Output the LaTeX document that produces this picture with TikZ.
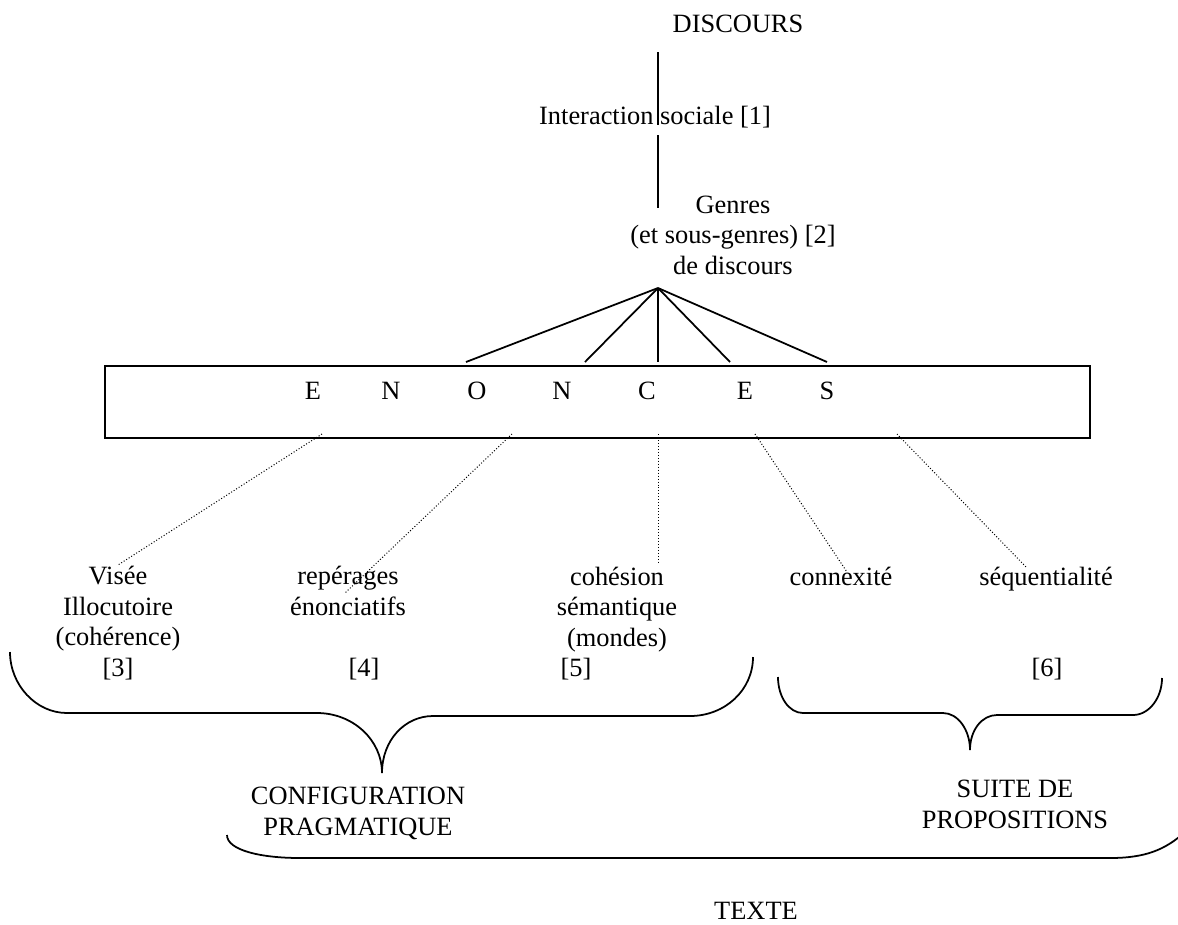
\documentclass[tikz,border=0pt]{standalone}
\usepackage{fontspec}
\setmainfont{Liberation Serif}
\usetikzlibrary{positioning, fit}

\begin{document}
\begin{tikzpicture}[x=0.4545pt,y=-0.4545pt,line width=0.8pt,
      every node/.style={font=\fontsize{12}{13.8}\selectfont,inner sep=0pt},
      lbl/.style={align=center,anchor=base},
      dots/.style={line width=0.45pt,dash pattern=on 0.45pt off 0.9pt}]
  \useasboundingbox (0,0) rectangle (1178,924);
  \node[lbl] (disc)   at (738,32)  {DISCOURS};
  \node[lbl] (inter)  at (655,124) {Interaction sociale [1]};
  \node[lbl] (genres) at (733,274) {Genres\\(et sous-genres) [2]\\de discours};
  \coordinate (t1) at (658,52);  \coordinate (t2) at (658,125);
  \coordinate (t3) at (658,135); \coordinate (t4) at (658,208);
  \coordinate (g) at (658,288);
  \draw (t1) -- (t2) (t3) -- (t4);

  \node[draw,fit={(105,366) (1090,438)}] (box) {};
  \foreach \l/\x in {E/313,N/391,O/477,N/562,C/647,E/745,S/827}
    \node[anchor=base] (e\x) at (\x,399) {\l};
  \foreach \x in {466,585,658,730,827} {
    \coordinate (f\x) at (\x,362);
    \draw (g) -- (f\x);
  }

  \node[lbl] (visee) at (118,676)  {Visée\\Illocutoire\\(cohérence)\\{[3]}};
  \node[lbl] (reper) at (348,615)  {repérages\\énonciatifs};
  \node[lbl] (cohes) at (617,646)  {cohésion\\sémantique\\(mondes)};
  \node[lbl] (conne) at (841,585)  {connexité};
  \node[lbl] (seque) at (1046,585) {séquentialité};
  \node[lbl] (n4) at (364,676)  {[4]};
  \node[lbl] (n5) at (576,676)  {[5]};
  \node[lbl] (n6) at (1047,676) {[6]};

  \foreach \a/\b/\c/\d [count=\i] in {322/434/118/565, 512/434/345/593,
      658/434/658/562, 755/434/847/572, 897/434/1027/568} {
    \coordinate (s\i) at (\a,\b);
    \coordinate (u\i) at (\c,\d);
    \draw[dots] (s\i) -- (u\i);
  }

  \draw (10,652) .. controls (10,685) and (36,713) .. (67,713) -- (317,713)
    .. controls (353,713) and (382,740) .. (382,773)
    .. controls (382,740) and (405,716) .. (433,716) -- (690,716)
    .. controls (725,716) and (753,690) .. (753,657);
  \draw (778,677) .. controls (778,697) and (789,713) .. (803,713) -- (943,713)
    .. controls (958,713) and (970,730) .. (970,750)
    .. controls (970,730) and (982,715) .. (997,715) -- (1133,715)
    .. controls (1149,715) and (1162,698) .. (1162,678);

  \node[lbl] (config) at (358,835) {CONFIGURATION\\PRAGMATIQUE};
  \node[lbl] (suite)  at (1015,828) {SUITE DE\\PROPOSITIONS};

  \draw (227,835) .. controls (227,850) and (260,858) .. (300,858) -- (1110,858)
    .. controls (1145,858) and (1165,850) .. (1185,832);
  \node[lbl] (texte) at (756,919) {TEXTE};
\end{tikzpicture}
\end{document}
